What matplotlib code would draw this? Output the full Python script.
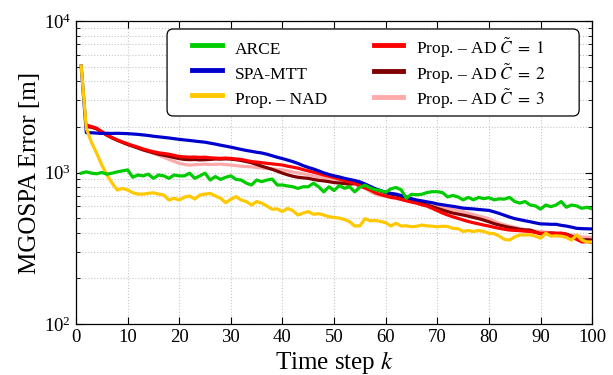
import matplotlib
matplotlib.use("Agg")
import matplotlib.pyplot as plt
import matplotlib.ticker as mticker
from matplotlib.patches import FancyBboxPatch
import numpy as np

# time steps
k_all = np.arange(1, 101)
k_ad = np.arange(2, 101)

arce = [990, 1010, 990, 980, 1000, 975, 990, 1010, 1025, 1040,
        930, 963, 950, 975, 915, 963, 950, 915, 963, 950,
        950, 990, 915, 950, 990, 892, 940, 900, 930, 950,
        900, 892, 850, 827, 892, 870, 892, 905, 827, 827,
        815, 805, 785, 805, 805, 850, 805, 745, 805, 760,
        820, 787, 805, 745, 800, 825, 790, 770, 760, 740,
        780, 796, 769, 676, 718, 713, 718, 737, 747, 747,
        737, 690, 705, 690, 660, 685, 660, 685, 672, 682,
        660, 670, 667, 685, 643, 628, 643, 610, 602, 573,
        610, 595, 610, 643, 590, 610, 602, 580, 590, 575]

spa_mtt = [5050, 1830, 1830, 1820, 1810, 1815, 1810, 1815, 1810, 1805,
           1795, 1785, 1770, 1755, 1735, 1720, 1705, 1690, 1672, 1655,
           1640, 1628, 1612, 1598, 1585, 1562, 1540, 1515, 1492, 1470,
           1445, 1420, 1398, 1380, 1360, 1345, 1320, 1290, 1260, 1235,
           1208, 1180, 1148, 1110, 1080, 1055, 1025, 995, 970, 950,
           935, 915, 900, 885, 867, 840, 810, 780, 760, 740,
           728, 720, 705, 690, 672, 658, 650, 640, 632, 620,
           612, 605, 598, 590, 582, 578, 575, 570, 566, 562,
           550, 537, 522, 508, 496, 488, 480, 473, 465, 458,
           457, 455, 455, 448, 443, 436, 428, 426, 425, 424]

nad = [5050, 1950, 1580, 1340, 1120, 963, 850, 766, 785, 766,
       735, 720, 720, 728, 735, 720, 710, 658, 676, 658,
       687, 700, 668, 710, 720, 728, 700, 676, 632, 665,
       693, 658, 643, 610, 643, 627, 600, 572, 575, 552,
       580, 560, 524, 540, 552, 530, 535, 524, 510, 505,
       500, 490, 473, 443, 445, 496, 480, 482, 475, 466,
       443, 462, 443, 445, 438, 442, 450, 444, 442, 438,
       442, 440, 428, 426, 408, 414, 408, 414, 408, 397,
       395, 380, 362, 358, 376, 387, 387, 388, 380, 368,
       397, 380, 382, 380, 373, 358, 387, 358, 348, 348]

ad_c1 = [2058, 2010, 1960, 1860, 1770, 1700, 1640, 1590, 1545,
         1505, 1470, 1430, 1400, 1370, 1350, 1335, 1320, 1298, 1275,
         1268, 1262, 1265, 1258, 1262, 1250, 1245, 1240, 1245, 1238,
         1228, 1220, 1200, 1180, 1172, 1160, 1150, 1140, 1130, 1120,
         1100, 1085, 1068, 1045, 1025, 1005, 985, 963, 945, 925,
         905, 885, 867, 845, 815, 790, 765, 735, 715, 700,
         685, 678, 665, 650, 638, 627, 612, 600, 580, 560,
         540, 524, 510, 498, 486, 475, 466, 458, 450, 443,
         435, 428, 422, 417, 415, 413, 410, 408, 402, 397,
         398, 398, 396, 398, 390, 376, 362, 348, 350, 345]

ad_c2 = [2010, 1990, 1940, 1850, 1760, 1690, 1630, 1580, 1530,
         1490, 1450, 1410, 1380, 1350, 1320, 1300, 1280, 1255, 1235,
         1220, 1215, 1218, 1212, 1215, 1220, 1228, 1225, 1230, 1225,
         1215, 1200, 1180, 1160, 1130, 1100, 1075, 1050, 1020, 990,
         965, 945, 930, 922, 915, 900, 888, 880, 870, 858,
         852, 845, 838, 845, 855, 830, 800, 775, 755, 735,
         720, 710, 695, 678, 660, 643, 628, 610, 595, 580,
         565, 552, 540, 532, 524, 515, 505, 496, 485, 473,
         460, 450, 442, 434, 428, 421, 418, 417, 405, 393,
         395, 398, 396, 393, 392, 380, 370, 358, 360, 358]

ad_c3 = [2040, 2000, 1950, 1855, 1765, 1695, 1635, 1585, 1540,
         1495, 1455, 1410, 1370, 1335, 1300, 1260, 1220, 1185, 1150,
         1130, 1120, 1125, 1130, 1135, 1130, 1132, 1135, 1128, 1120,
         1110, 1100, 1095, 1090, 1080, 1070, 1062, 1055, 1048, 1040,
         1025, 1008, 992, 980, 965, 950, 938, 925, 912, 900,
         888, 870, 855, 838, 815, 790, 750, 720, 705, 695,
         685, 675, 662, 655, 645, 632, 625, 615, 605, 595,
         588, 580, 570, 560, 552, 540, 528, 516, 506, 496,
         478, 462, 452, 443, 435, 428, 420, 413, 410, 408,
         404, 402, 400, 397, 392, 387, 382, 376, 374, 373]

plt.rcParams["font.family"] = ["Liberation Serif", "DejaVu Serif"]
plt.rcParams["mathtext.fontset"] = "stix"

fig = plt.figure(figsize=(6.13, 3.75), dpi=100)
ax = fig.add_axes([0.124, 0.136, 0.842, 0.808])

lw = 2.3
l1, = ax.plot(k_all, arce, color="#00cc00", lw=lw, label="ARCE", zorder=5)
l2, = ax.plot(k_all, spa_mtt, color="#0000cc", lw=lw, label="SPA-MTT", zorder=3)
l3, = ax.plot(k_all, nad, color="#ffc800", lw=lw, label="Prop. – NAD", zorder=4)
l6, = ax.plot(k_ad, ad_c3, color="#ffaaaa", lw=lw, zorder=2.1,
              label=r"Prop. – AD $\tilde{C}\;=\;3$")
l5, = ax.plot(k_ad, ad_c2, color="#800000", lw=lw, zorder=2.2,
              label=r"Prop. – AD $\tilde{C}\;=\;2$")
l4, = ax.plot(k_ad, ad_c1, color="#ff0000", lw=lw, zorder=2.3,
              label=r"Prop. – AD $\tilde{C}\;=\;1$")

ax.set_yscale("log")
ax.set_xlim(0, 100)
ax.set_ylim(1e2, 1e4)
ax.set_xticks(np.arange(0, 101, 10))
ax.yaxis.set_minor_formatter(mticker.NullFormatter())

ax.grid(True, which="major", color="#c8c8c8", ls=":", lw=0.8)
ax.grid(True, which="minor", axis="y", color="#c8c8c8", ls=":", lw=0.8)
ax.tick_params(which="both", direction="in", top=True, right=True, labelsize=13.5)
ax.tick_params(which="major", length=5)
ax.tick_params(which="minor", length=3)
for s in ax.spines.values():
    s.set_linewidth(0.9)

ax.set_xlabel(r"Time step $k$", fontsize=18, labelpad=2)
ax.set_ylabel("MGOSPA Error [m]", fontsize=18, labelpad=2)

# legend frame drawn separately so it can be wider than its content
frame = FancyBboxPatch((0.1764, 0.6865), 0.7984, 0.2871, transform=ax.transAxes,
                       boxstyle="round,pad=0,rounding_size=0.012",
                       mutation_aspect=1.7, facecolor="white",
                       edgecolor="black", lw=0.9, zorder=6)
ax.add_patch(frame)

leg = ax.legend(handles=[l1, l2, l3, l4, l5, l6], ncol=2, loc="upper left",
                bbox_to_anchor=(0.2248, 0.9505), borderaxespad=0, fontsize=12.5,
                frameon=False, handlelength=1.7, handleheight=1.75,
                labelspacing=0.06, columnspacing=2.7, handletextpad=0.75,
                borderpad=0)
leg.set_zorder(7)
for h in leg.get_lines():
    h.set_linewidth(3.5)

fig.savefig("out.png", dpi=100)
